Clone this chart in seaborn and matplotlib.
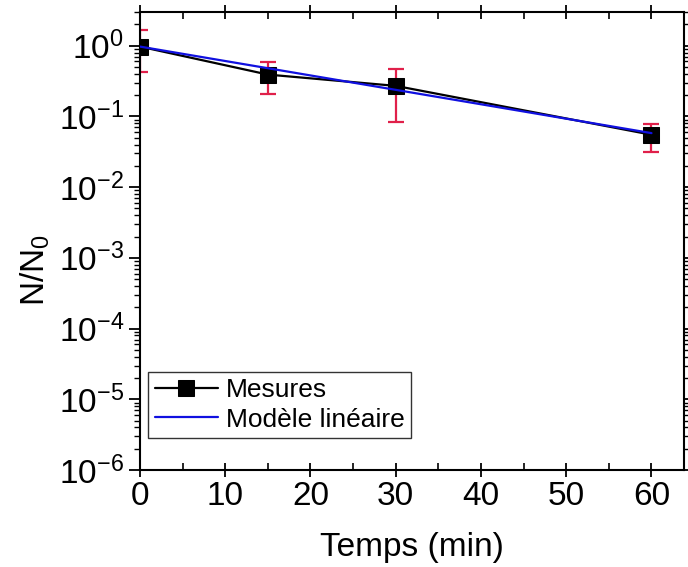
import numpy as np
import pandas as pd
import matplotlib
matplotlib.use("Agg")
import matplotlib.pyplot as plt
import seaborn as sns
from matplotlib.ticker import LogLocator, MultipleLocator, FixedFormatter

# Data
temps = [0, 15, 30, 60]
mesures = [0.97, 0.39, 0.27, 0.055]
err_haut = [1.68, 0.59, 0.47, 0.079]
err_bas = [0.43, 0.21, 0.084, 0.031]
modele_t = [0, 60]
modele_y = [0.97, 0.058]
y_exposants = [-6, -5, -4, -3, -2, -1, 0]

sns.set_style("ticks")
plt.rcParams['font.family'] = ['Liberation Sans', 'DejaVu Sans']
plt.rcParams['mathtext.fontset'] = 'custom'
plt.rcParams['mathtext.rm'] = 'Liberation Sans'
plt.rcParams['mathtext.it'] = 'Liberation Sans:italic'
for k in ['text.color', 'axes.labelcolor', 'xtick.color', 'ytick.color']:
    plt.rcParams[k] = 'black'

fig = plt.figure(figsize=(6.88, 5.67), dpi=100)
ax = fig.add_axes([0.2035, 0.171, 0.7905, 0.808])

df_m = pd.DataFrame({"t": temps, "y": mesures})
df_l = pd.DataFrame({"t": modele_t, "y": modele_y})

yerr = np.array([np.array(mesures) - np.array(err_bas),
                 np.array(err_haut) - np.array(mesures)])
ax.errorbar(temps, mesures, yerr=yerr, fmt='none', ecolor='#e0204a',
            elinewidth=1.6, capsize=6, capthick=1.6, zorder=2)

sns.lineplot(data=df_m, x="t", y="y", ax=ax, color='black', marker='s',
             markersize=12, markeredgecolor='black', linewidth=1.6,
             label='Mesures', zorder=3)
sns.lineplot(data=df_l, x="t", y="y", ax=ax, color='#1010e0',
             linewidth=1.6, label='Modèle linéaire', zorder=4)

ax.set_yscale('log')
ax.set_ylim(1e-6, 3.0)
ax.set_xlim(0, 63.8)
ax.set_yticks([10.0 ** e for e in y_exposants])
ax.yaxis.set_major_formatter(FixedFormatter(
    [r"10$^{\mathregular{%d}}$" % e for e in y_exposants]))
ax.yaxis.set_minor_locator(LogLocator(base=10, subs=np.arange(2, 10), numticks=20))
ax.yaxis.set_minor_formatter(FixedFormatter([]))
ax.xaxis.set_major_locator(MultipleLocator(10))
ax.xaxis.set_minor_locator(MultipleLocator(5))

ax.set_xlabel("Temps (min)", fontsize=24, labelpad=14)
ax.set_ylabel("N/N$_\\mathregular{0}$", fontsize=24)
ax.yaxis.set_label_coords(-0.162, 0.437)

ax.tick_params(axis='x', which='major', direction='inout', length=10, width=1.3,
               labelsize=24, top=True, pad=3)
ax.tick_params(axis='x', which='minor', direction='in', length=5, width=1.2, top=True)
ax.tick_params(axis='y', which='major', direction='out', length=8, width=1.3,
               labelsize=24, right=True)
ax.tick_params(axis='y', which='minor', direction='out', length=4, width=1.0, right=True)

for s in ax.spines.values():
    s.set_linewidth(1.5)
    s.set_color('black')

leg = ax.legend(loc='lower left', bbox_to_anchor=(0.005, 0.058), fontsize=19,
                frameon=True, fancybox=False, edgecolor='black',
                handlelength=2.4, borderpad=0.25, labelspacing=0.2,
                handletextpad=0.3, borderaxespad=0.2)
leg.get_frame().set_linewidth(1.0)

fig.savefig("out.png", dpi=100)
